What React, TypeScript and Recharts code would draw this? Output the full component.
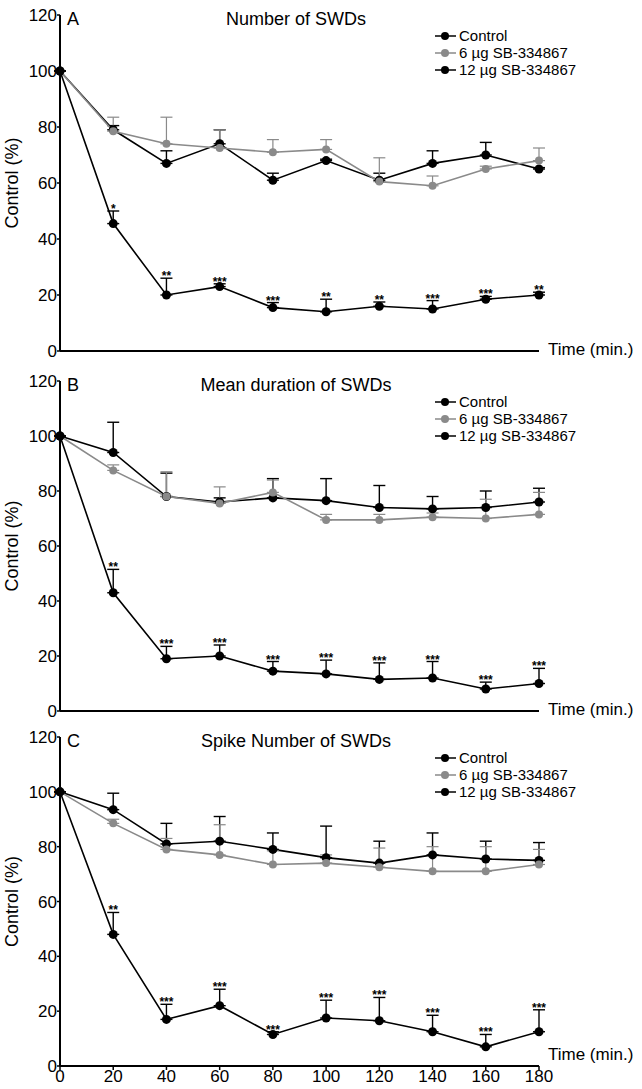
import { LineChart, Line, XAxis, YAxis, ErrorBar, LabelList } from 'recharts';

const times = [0, 20, 40, 60, 80, 100, 120, 140, 160, 180];
const yTicks = [0, 20, 40, 60, 80, 100, 120];
const seriesNames = ['Control', '6 µg SB-334867', '12 µg SB-334867'];

// A: Number of SWDs
const ctrlA = [100, 79, 67, 74, 61, 68, 61, 67, 70, 65];
const ctrlAErr = [0, 1.5, 4.5, 5, 2.5, 0.5, 2.5, 4.5, 4.5, 0.5];
const lowA = [100, 78.5, 74, 72.5, 71, 72, 60.5, 59, 65, 68];
const lowAErr = [0, 5, 9.5, 6.5, 4.5, 3.5, 8.5, 3.5, 1, 4.5];
const highA = [100, 45.5, 20, 23, 15.5, 14, 16, 15, 18.5, 20];
const highAErr = [0, 4.5, 6, 1, 1.8, 4.5, 1.5, 3, 1, 1];
const starsA = ['', '*', '**', '***', '***', '**', '**', '***', '***', '**'];

// B: Mean duration of SWDs
const ctrlB = [100, 94, 78, 76, 77.5, 76.5, 74, 73.5, 74, 76];
const ctrlBErr = [0, 11, 8.5, 1.5, 7, 8, 8, 4.5, 6, 5];
const lowB = [100, 87.5, 78, 75.5, 79.5, 69.5, 69.5, 70.5, 70, 71.5];
const lowBErr = [0, 2, 9, 6, 4.5, 2, 2, 1.5, 7, 8];
const highB = [100, 43, 19, 20, 14.5, 13.5, 11.5, 12, 8, 10];
const highBErr = [0, 8.5, 4.5, 4, 3.5, 5, 6, 6, 2.5, 5.5];
const starsB = ['', '**', '***', '***', '***', '***', '***', '***', '***', '***'];

// C: Spike number of SWDs
const ctrlC = [100, 93.5, 81, 82, 79, 76, 74, 77, 75.5, 75];
const ctrlCErr = [0, 6, 7.5, 9, 6, 11.5, 8, 8, 6.5, 6.5];
const lowC = [100, 88.5, 79, 77, 73.5, 74, 72.5, 71, 71, 73.5];
const lowCErr = [0, 1.5, 4, 11, 5, 3, 7, 9, 9, 5.5];
const highC = [100, 48, 17, 22, 11.5, 17.5, 16.5, 12.5, 7, 12.5];
const highCErr = [0, 8, 5.5, 6, 1, 6.5, 8.5, 6, 4.5, 8];
const starsC = ['', '**', '***', '***', '***', '***', '***', '***', '***', '***'];

const GRAY = '#8a8a8a';
const FONT = '"Liberation Sans", Arial, sans-serif';

const buildRows = (
  ctrl: number[], ctrlErr: number[],
  low: number[], lowErr: number[],
  high: number[], highErr: number[],
  stars: string[],
) =>
  times.map((t, i) => ({
    t,
    ctrl: ctrl[i],
    ctrlErr: [0, ctrlErr[i]],
    low: low[i],
    lowErr: [0, lowErr[i]],
    high: high[i],
    highErr: [0, highErr[i]],
    starY: high[i] + highErr[i],
    star: stars[i],
  }));

function LegendBox({ top }: { top: number }) {
  const colors = ['#000', GRAY, '#000'];
  return (
    <div style={{ position: 'absolute', left: 434, top, fontSize: 15, lineHeight: '17px' }}>
      {seriesNames.map((n, i) => (
        <div key={n} style={{ display: 'flex', alignItems: 'center', height: 17, color: '#000' }}>
          <svg width={23} height={10} style={{ marginRight: 2 }}>
            <line x1={1} y1={5} x2={22} y2={5} stroke={colors[i]} strokeWidth={1.5} />
            <circle cx={11} cy={5} r={4} fill={colors[i]} />
          </svg>
          <span>{n}</span>
        </div>
      ))}
    </div>
  );
}

interface PanelProps {
  top: number;
  height: number;
  xHeight: number;
  rows: ReturnType<typeof buildRows>;
  title: string;
  letter: string;
  showX: boolean;
  timeDy: number;
}

function Panel({ top, height, xHeight, rows, title, letter, showX, timeDy }: PanelProps) {
  const plotBottom = height - xHeight;
  return (
    <div style={{ position: 'absolute', left: 0, top, width: 642, height }}>
      <LineChart width={642} height={height} data={rows} margin={{ top: 15, right: 103, bottom: 0, left: 0 }}>
        <XAxis
          dataKey="t"
          type="number"
          domain={[0, 180]}
          ticks={times}
          interval={0}
          height={xHeight}
          axisLine={{ stroke: '#000', strokeWidth: 2 }}
          tickLine={{ stroke: '#000', strokeWidth: 1.5 }}
          tickSize={4}
          tickMargin={0}
          tick={showX ? { fontSize: 17, fill: '#000', fontFamily: FONT } : false}
        />
        <YAxis
          domain={[0, 120]}
          ticks={yTicks}
          interval={0}
          width={60}
          axisLine={{ stroke: '#000', strokeWidth: 2 }}
          tickLine={{ stroke: '#000', strokeWidth: 1.5 }}
          tickSize={3}
          tickMargin={0}
          tick={{ fontSize: 17, fill: '#000', fontFamily: FONT }}
          label={{
            value: 'Control (%)',
            angle: -90,
            position: 'insideLeft',
            offset: 12,
            style: { textAnchor: 'middle', fontSize: 18, fill: '#000', fontFamily: FONT },
          }}
        />
        <Line
          dataKey="ctrl"
          stroke="#000"
          strokeWidth={1.6}
          dot={{ r: 4.5, fill: '#000', stroke: '#000', strokeWidth: 0 }}
          activeDot={false}
          isAnimationActive={false}
        >
          <ErrorBar dataKey="ctrlErr" direction="y" width={6} stroke="#000" strokeWidth={1.4} />
        </Line>
        <Line
          dataKey="low"
          stroke={GRAY}
          strokeWidth={1.6}
          dot={{ r: 4, fill: GRAY, stroke: GRAY, strokeWidth: 0 }}
          activeDot={false}
          isAnimationActive={false}
        >
          <ErrorBar dataKey="lowErr" direction="y" width={6} stroke={GRAY} strokeWidth={1.2} />
        </Line>
        <Line
          dataKey="high"
          stroke="#000"
          strokeWidth={1.6}
          dot={{ r: 4.5, fill: '#000', stroke: '#000', strokeWidth: 0 }}
          activeDot={false}
          isAnimationActive={false}
        >
          <ErrorBar dataKey="highErr" direction="y" width={6} stroke="#000" strokeWidth={1.4} />
        </Line>
        <Line dataKey="starY" stroke="none" dot={false} activeDot={false} isAnimationActive={false}>
          <LabelList
            dataKey="star"
            position="top"
            offset={-2}
            style={{ fontSize: 12, fontWeight: 'bold', fill: '#000', fontFamily: FONT }}
          />
        </Line>
      </LineChart>
      <div style={{ position: 'absolute', left: 67, top: 9, fontSize: 18 }}>{letter}</div>
      <div style={{ position: 'absolute', left: 0, width: 592, top: 9, fontSize: 18, textAlign: 'center' }}>{title}</div>
      <LegendBox top={27} />
      <div style={{ position: 'absolute', left: 548, top: plotBottom - 11 + timeDy, fontSize: 17 }}>Time (min.)</div>
    </div>
  );
}

const rowsA = buildRows(ctrlA, ctrlAErr, lowA, lowAErr, highA, highAErr, starsA);
const rowsB = buildRows(ctrlB, ctrlBErr, lowB, lowBErr, highB, highBErr, starsB);
const rowsC = buildRows(ctrlC, ctrlCErr, lowC, lowCErr, highC, highCErr, starsC);

export default function App() {
  return (
    <div
      style={{
        position: 'absolute',
        left: 0,
        top: 0,
        width: 642,
        height: 1089,
        background: '#fff',
        fontFamily: FONT,
        color: '#000',
      }}
    >
      <Panel top={0} height={370} xHeight={19} rows={rowsA} title="Number of SWDs" letter="A" showX={false} timeDy={0} />
      <Panel top={366} height={364} xHeight={19} rows={rowsB} title="Mean duration of SWDs" letter="B" showX={false} timeDy={0} />
      <Panel top={722} height={367} xHeight={23} rows={rowsC} title="Spike Number of SWDs" letter="C" showX={true} timeDy={-10} />
    </div>
  );
}
